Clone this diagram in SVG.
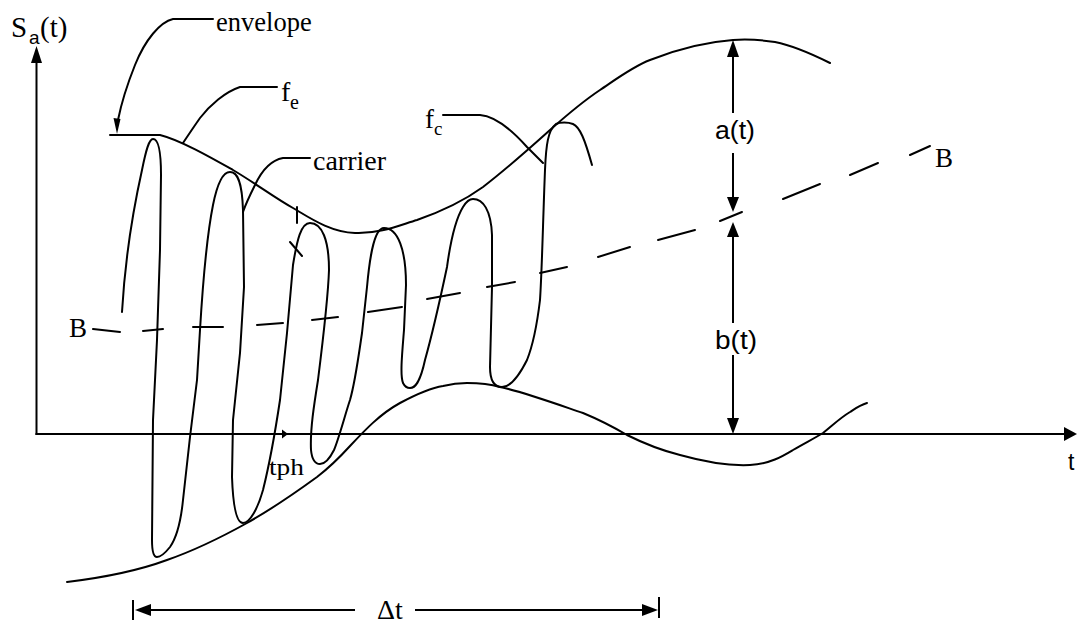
<svg xmlns="http://www.w3.org/2000/svg" width="1077" height="625" viewBox="0 0 1077 625">
<style>
.ln{fill:none;stroke:#000;stroke-width:2;stroke-linecap:round;stroke-linejoin:round}
.ax{fill:none;stroke:#000;stroke-width:2}
.ah{fill:#000;stroke:none}
.serif{font-family:"Liberation Serif","Times New Roman",serif;fill:#000}
.sans{font-family:"Liberation Sans",Arial,sans-serif;fill:#000}
</style>
<rect width="1077" height="625" fill="#fff"/>
<g id="axes">
<line class="ax" x1="36.5" y1="60" x2="36.5" y2="435"/>
<polygon class="ah" points="36.5,46 31,63 42,63"/>
<line class="ax" x1="35.5" y1="434" x2="1066" y2="434"/>
<polygon class="ah" points="1077,434 1064,427 1064,441"/>
<text class="serif" x="11" y="37" font-size="29">S</text>
<text class="sans" x="29" y="44" font-size="19">a</text>
<text class="serif" x="40" y="37" font-size="29">(t)</text>
<text class="sans" x="1068" y="470" font-size="23">t</text>
</g>
<g id="envelope-top">
<path class="ln" d="M110,135 L160,135 C180,140 210,157 233,170 C255,183 275,198 293,208 C310,218 330,232 355,233 C380,234 400,225 417,220 C440,212 465,200 483,187 C505,170 530,148 550,130 C568,114 585,100 600,90 C615,80 632,67 650,60 C675,50 705,42 733,40 C748,39 762,40 775,42 C795,46 812,54 830,63"/>
</g>
<g id="envelope-bottom">
<path class="ln" d="M67,582 C100,578 140,570 167,560 C190,552 220,538 247,523 C270,510 295,493 317,477 C330,467 340,457 350,446 C365,430 380,414 400,403 C415,395 430,388 443,386 C455,383 460,383 467,383 C480,383 490,384 500,387 C520,391 545,400 583,413 C600,420 615,428 627,435 C645,444 660,450 680,455 C705,462 730,466 750,465 C770,464 783,456 793,450 C805,443 815,438 823,433 C833,425 840,418 850,412 C856,408 860,405 867,403"/>
</g>
<g id="carrier">
<path class="ln" d="M122,312 C125,260 132,215 142,170 C146,150 149,139 153,139 C158,139 161,150 161,175 L160,250 L157,340 L153,420 L152,540 C152,553 154,557 157,557 C161,557 166,552 170,547 C177,537 181,520 183,500 L190,437 L197,380 L200,330 C203,280 206,240 213,205 C217,185 222,172 230,172 C237,172 242,180 243,210 L244,287 L240,353 L233,420 L232,477 C233,505 236,523 243,523 C250,523 258,508 263,490 C268,470 274,440 280,400 L287,333 L293,265 C297,240 301,223 310,223 C322,223 329,240 329,270 C328,300 323,340 318,380 C314,405 310,430 311,450 C312,460 315,464 320,464 C326,464 330,458 334,450 C339,438 345,415 350,400 C355,383 358,360 362,333 L367,287 C369,265 373,228 384,228 C398,228 406,250 406,285 L404,330 C402,355 400,375 403,383 C405,387 407,388 410,388 C415,388 420,383 425,360 C432,335 440,300 447,267 C450,245 455,220 463,207 C466,202 469,199 473,199 C483,199 491,210 492,235 L492,287 L490,367 C490,380 494,387 502,387 C510,387 518,378 527,360 C533,345 537,325 540,300 C542,270 543,220 545,170 C546,145 548,130 556,124 C560,122 568,122 573,124 C580,127 585,140 592,165"/>
<line class="ln" x1="297" y1="207" x2="297" y2="223"/>
<line class="ln" x1="290" y1="242" x2="302" y2="256"/>
</g>
<g id="line-B">
<g class="ln">
<line x1="93" y1="329" x2="120" y2="332"/>
<line x1="143" y1="331" x2="163" y2="329"/>
<line x1="193" y1="327" x2="223" y2="327"/>
<line x1="257" y1="325" x2="283" y2="323"/>
<line x1="312" y1="320" x2="338" y2="317"/>
<line x1="368" y1="312" x2="402" y2="307"/>
<line x1="427" y1="299" x2="460" y2="293"/>
<line x1="487" y1="287" x2="515" y2="282"/>
<line x1="540" y1="273" x2="567" y2="267"/>
<line x1="598" y1="257" x2="630" y2="247"/>
<line x1="658" y1="240" x2="695" y2="230"/>
<line x1="720" y1="221" x2="742" y2="212"/>
<line x1="783" y1="199" x2="820" y2="184"/>
<line x1="850" y1="175" x2="878" y2="163"/>
<line x1="910" y1="155" x2="930" y2="146"/>
</g>
<text class="serif" x="69" y="337" font-size="27">B</text>
<text class="serif" x="935" y="167" font-size="27">B</text>
</g>
<g id="label-envelope">
<path class="ln" d="M213,19 L173,19 C160,22 145,40 135,65 C127,85 121,105 118,120"/>
<polygon class="ah" points="117,134 113.5,118 120.5,119"/>
<text class="serif" x="216" y="31" font-size="26.5">envelope</text>
</g>
<g id="label-fe">
<path class="ln" d="M277,87 L240,87 C225,92 210,105 200,118 C193,128 187,137 183,143"/>
<text class="serif" x="281" y="101" font-size="28">f</text>
<text class="serif" x="290" y="109" font-size="20">e</text>
</g>
<g id="label-carrier">
<path class="ln" d="M310,158 L283,158 C272,160 262,170 255,185 C250,195 246,203 243,212"/>
<text class="serif" x="313" y="170" font-size="28">carrier</text>
</g>
<g id="label-fc">
<path class="ln" d="M443,115 L480,115 C495,116 510,128 527,147 L543,163"/>
<text class="serif" x="425" y="128" font-size="27">f</text>
<text class="serif" x="434" y="135" font-size="19">c</text>
</g>
<g id="dim-a">
<line class="ax" x1="733" y1="56" x2="733" y2="113"/>
<line class="ax" x1="733" y1="153" x2="733" y2="199"/>
<polygon class="ah" points="733,40 727,57 739,57"/>
<polygon class="ah" points="733,212 727,197 739,197"/>
<text class="sans" x="715" y="139" font-size="25" textLength="40" lengthAdjust="spacingAndGlyphs">a(t)</text>
</g>
<g id="dim-b">
<line class="ax" x1="733" y1="235" x2="733" y2="323"/>
<line class="ax" x1="733" y1="355" x2="733" y2="420"/>
<polygon class="ah" points="733,222 727,237 739,237"/>
<polygon class="ah" points="733,434 727,418 739,418"/>
<text class="sans" x="715" y="349" font-size="25" textLength="42" lengthAdjust="spacingAndGlyphs">b(t)</text>
</g>
<g id="tph">
<polygon class="ah" points="288,434 282,429.5 282,438.5"/>
<text class="serif" x="269" y="475" font-size="24" textLength="35" lengthAdjust="spacingAndGlyphs">tph</text>
</g>
<g id="delta-t">
<line class="ax" x1="133" y1="600" x2="133" y2="620"/>
<line class="ax" x1="659" y1="597" x2="659" y2="618"/>
<line class="ax" x1="148" y1="610" x2="355" y2="610"/>
<line class="ax" x1="415" y1="610" x2="645" y2="610"/>
<polygon class="ah" points="135,610 151,604 151,616"/>
<polygon class="ah" points="658,610 642,604 642,616"/>
<text class="serif" x="377" y="619" font-size="28">Δt</text>
</g>
</svg>
